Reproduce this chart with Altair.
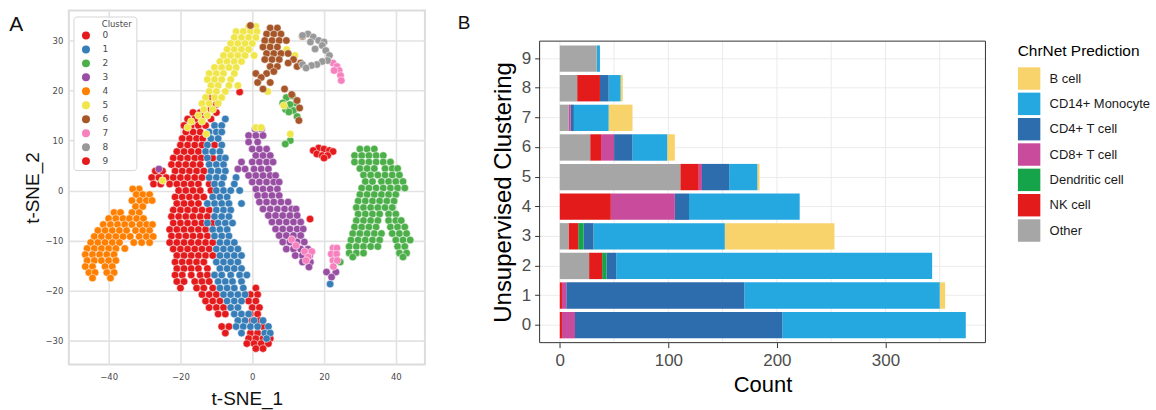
import altair as alt
import pandas as pd

# ---------------- Panel A : t-SNE points ----------------
# rows: (t-SNE_2, [t-SNE_1 values on that row])
CLUSTER_0 = [
    (15.6, [-16.5, -14.5, -10.0]),
    (14.3, [-18.0, -16.0, -14.0, -11.5]),
    (13.0, [-19.0, -17.0, -15.0, -13.0]),
    (11.7, [-18.5, -16.5, -14.5]),
    (10.4, [-19.5, -17.5, -15.5, -13.8]),
    (9.1, [-20.0, -18.0, -16.0, -14.0, -10.5]),
    (7.8, [-21.0, -19.0, -17.0, -15.0]),
    (6.5, [-22.0, -20.0, -18.0, -16.0, -14.2, -11.0]),
    (5.2, [-22.5, -20.5, -18.5, -16.5, -14.5]),
    (3.9, [-27.0, -25.0, -21.5, -19.5, -17.5, -15.5, -13.5]),
    (2.6, [-28.0, -26.0, -24.0, -22.0, -20.0, -18.0, -16.0, -14.0]),
    (1.3, [-27.5, -25.5, -23.0, -21.0, -19.0, -17.0, -15.0, -12.0]),
    (0.0, [-20.5, -18.5, -16.5, -14.5, -11.5]),
    (-1.3, [-21.5, -19.5, -17.5, -15.5, -13.5]),
    (-2.6, [-21.0, -19.0, -17.0, -15.0]),
    (-3.9, [-22.0, -20.0, -18.0, -16.0, -14.0, -12.0]),
    (-5.2, [-22.5, -20.5, -18.5, -16.5, -14.5, -12.5]),
    (-6.5, [-22.0, -20.0, -18.0, -16.0, -14.0, -11.0]),
    (-7.8, [-23.0, -21.0, -19.0, -17.0, -15.0, -13.0]),
    (-9.1, [-22.5, -20.5, -18.5, -16.5, -14.5, -12.5]),
    (-10.4, [-23.0, -21.0, -19.0, -17.0, -15.0, -13.0, -11.0]),
    (-11.7, [-22.0, -20.0, -18.0, -16.0, -14.0, -12.0]),
    (-13.0, [-21.0, -19.0, -17.0, -15.0, -13.0, -11.0]),
    (-14.3, [-21.5, -19.5, -17.5, -15.5, -13.5]),
    (-15.6, [-21.0, -19.0, -17.0, -15.0, -12.5]),
    (-16.9, [-21.5, -19.5, -17.0, -14.5, -12.5]),
    (-18.2, [-21.0, -19.0, -16.0, -14.0, -12.0]),
    (-19.5, [-20.0, -15.5, -13.5, -11.0, 1.0]),
    (-20.8, [-14.0, -12.0, -10.0, -0.5, 1.5]),
    (-22.1, [-13.0, -11.0, -9.0, -1.0, 1.0]),
    (-23.4, [-12.0, -10.0, -8.0, 0.0, 2.0]),
    (-24.7, [-9.5, -7.5, -0.5, 1.5]),
    (-26.0, [0.0, 2.0]),
    (-27.2, [-8.5, -6.5, 3.0]),
    (-28.5, [-7.5, -0.5, 1.5]),
    (-29.6, [-1.0, 1.0, 3.0, 5.0]),
    (-30.6, [-1.5, 0.5, 2.5, 4.5]),
    (-31.6, [1.0, 3.0]),
    (18.5, [-12.0]),
    (17.2, [-10.0]),
    (16.3, [-11.5]),
    (19.7, [-3.5]),
]

CLUSTER_1 = [
    (14.3, [-7.5]),
    (13.0, [-10.5, -8.5]),
    (11.7, [-12.0, -10.0, -8.5]),
    (10.4, [-11.5, -9.5]),
    (9.1, [-12.5, -8.5]),
    (7.8, [-13.0, -11.0, -9.0]),
    (6.5, [-12.5, -9.0, -7.5]),
    (5.2, [-12.0, -10.0, -8.0]),
    (3.9, [-11.5, -9.5, -7.5]),
    (2.6, [-12.0, -10.0, -8.0, -4.5]),
    (1.3, [-10.5, -8.5, -5.0]),
    (0.0, [-10.0, -8.0, -6.0, -3.5]),
    (-1.3, [-11.0, -9.0, -7.0]),
    (-2.6, [-12.5, -10.5, -8.5, -6.5, -3.0]),
    (-3.9, [-10.0, -8.0, -6.0]),
    (-5.2, [-10.5, -8.5, -6.5]),
    (-6.5, [-12.5, -9.5, -7.5, -5.5]),
    (-7.8, [-11.0, -9.0, -7.0]),
    (-9.1, [-10.5, -8.5, -6.5]),
    (-10.4, [-9.0, -7.0, -5.0]),
    (-11.7, [-10.0, -8.0, -6.0, -4.0]),
    (-13.0, [-9.0, -7.0, -5.0, -3.0]),
    (-14.3, [-10.0, -8.0, -6.0, -4.0]),
    (-15.6, [-9.0, -7.0, -5.0, -3.0]),
    (-16.9, [-10.5, -8.5, -6.0, -3.5, -1.5]),
    (-18.2, [-9.5, -7.5, -5.5, -3.0]),
    (-19.5, [-9.0, -7.0, -5.0, -2.5]),
    (-20.8, [-8.0, -6.0, -4.0, -2.0]),
    (-22.1, [-7.0, -5.0, -3.0]),
    (-23.4, [-6.0, -4.0]),
    (-24.7, [-5.0, -3.0, -1.0]),
    (-26.0, [-4.0, -2.0, 0.5, 3.0]),
    (-27.2, [-4.5, -2.5, -0.5, 1.5, 4.5]),
    (-28.5, [-3.0, 3.5, 5.0]),
    (-29.6, [4.0]),
    (-18.7, [21.7]),
]

CLUSTER_2 = [
    (8.3, [30.0, 32.0, 34.0]),
    (7.0, [28.5, 30.5, 32.5, 34.5, 36.5]),
    (5.7, [28.5, 30.5, 32.5, 34.5, 36.5, 38.5]),
    (4.4, [30.0, 32.0, 34.0, 37.0, 39.0, 40.5]),
    (3.1, [31.0, 33.0, 35.0, 37.0, 39.0, 41.0]),
    (1.8, [31.5, 33.5, 36.0, 38.0, 40.0, 42.0]),
    (0.5, [30.5, 32.5, 34.5, 36.5, 38.5, 40.5, 42.5]),
    (-0.8, [30.0, 32.0, 34.0, 36.0, 38.0, 40.0]),
    (-2.1, [29.5, 31.5, 33.5, 35.5, 37.5, 39.5]),
    (-3.4, [29.0, 31.0, 33.0, 35.0, 37.0, 39.0]),
    (-4.7, [29.5, 31.5, 33.5, 35.5, 38.0, 40.0]),
    (-6.0, [29.0, 31.0, 33.0, 35.0, 38.0, 40.0, 41.5]),
    (-7.3, [28.5, 30.5, 32.5, 34.5, 38.5, 40.5, 42.5]),
    (-8.6, [28.0, 30.0, 32.0, 34.0, 36.0, 39.0, 41.0, 43.0]),
    (-9.9, [27.5, 29.5, 31.5, 33.5, 35.5, 40.0, 42.0, 44.0]),
    (-11.2, [27.0, 29.0, 31.0, 33.0, 35.0, 40.5, 42.5]),
    (-12.5, [27.0, 29.0, 31.0, 41.0, 43.0]),
    (-13.3, [28.0, 42.0]),
    (18.9, [11.2]),
    (18.6, [9.5]),
    (17.5, [8.5, 12.2]),
    (17.2, [10.5]),
    (16.2, [9.3]),
    (16.0, [11.5]),
    (15.7, [10.2]),
    (14.8, [12.5]),
    (10.0, [10.6]),
    (9.3, [9.2]),
    (-14.3, [24.5]),
]

CLUSTER_3 = [
    (12.3, [0.8, 2.6]),
    (11.0, [-1.0, 1.0, 3.0]),
    (9.7, [-1.0, 1.5]),
    (8.3, [0.0, 2.0, 4.0]),
    (7.0, [1.0, 3.0, 5.0]),
    (5.7, [-3.0, 0.0, 2.0, 4.0, 5.8]),
    (4.3, [-4.0, -2.0, 0.5, 2.5, 4.5, -26.0]),
    (3.0, [-1.0, 1.0, 3.0, 5.0, 6.5]),
    (1.7, [0.0, 2.0, 4.0, 6.0, 7.5]),
    (0.3, [1.0, 3.0, 5.0, 7.0]),
    (-1.0, [1.5, 3.5, 5.5, 7.5]),
    (-2.3, [2.0, 4.0, 6.0, 8.0, 10.0]),
    (-3.7, [3.0, 5.0, 7.0, 9.0, 11.0, 12.2]),
    (-5.0, [4.5, 6.5, 8.5, 10.5, 12.5]),
    (-6.3, [5.5, 7.5, 9.5, 11.5, 13.5]),
    (-7.7, [6.5, 8.5, 10.5, 12.5, 14.2]),
    (-9.0, [7.5, 9.5, 11.5, 13.5]),
    (-10.3, [8.5, 10.5, 12.5, 14.5]),
    (-11.7, [9.5, 11.5, 13.5, 15.5]),
    (-13.0, [12.0, 14.0, 16.0]),
    (-14.3, [14.0, 16.2]),
    (-15.3, [15.8]),
    (-16.3, [20.7, 23.3]),
    (-17.3, [22.1]),
]

CLUSTER_4 = [
    (0.3, [-31.5, -33.3]),
    (-0.8, [-32.3, -30.5, -28.6]),
    (-2.0, [-33.5, -31.3, -29.5, -27.9]),
    (-3.2, [-32.5, -30.5]),
    (-4.4, [-38.5, -36.7, -33.5, -31.5]),
    (-5.6, [-40.0, -38.0, -36.0, -34.2, -32.2, -30.3]),
    (-6.8, [-41.5, -39.5, -37.5, -35.5, -33.5, -31.3, -29.4, -27.8]),
    (-8.0, [-43.0, -41.0, -39.0, -37.0, -35.0, -32.5, -30.5, -28.6]),
    (-9.2, [-44.0, -42.0, -40.0, -38.0, -36.0, -34.0, -31.5, -29.5, -27.6]),
    (-10.4, [-45.0, -43.0, -41.0, -39.0, -37.0, -33.0, -30.8, -28.6]),
    (-11.6, [-46.0, -44.0, -42.0, -40.0, -38.0, -35.5]),
    (-12.8, [-46.5, -44.5, -42.5, -40.5, -38.5]),
    (-14.0, [-46.0, -44.0, -42.0, -40.0, -38.0]),
    (-15.2, [-46.5, -44.5, -41.0, -39.0]),
    (-16.4, [-45.5, -43.8, -40.5, -38.5]),
    (-17.5, [-44.5, -39.5]),
]

CLUSTER_5 = [
    (32.8, [-1.0, 1.0]),
    (31.8, [-4.5, -2.5, -0.5, 1.3]),
    (30.6, [-5.0, -3.0, -1.0, 1.0]),
    (29.4, [-6.0, -4.0, -2.0, 0.0, 4.5]),
    (28.2, [-7.0, -5.0, -3.0, -1.0, 9.6]),
    (27.0, [-8.0, -6.0, -4.0, -2.0, 0.5, 11.9]),
    (25.8, [-9.0, -7.0, -5.0, -3.0]),
    (24.6, [-10.5, -8.5, -6.5, -4.5]),
    (23.4, [-12.0, -10.0, -8.0, -5.0]),
    (22.2, [-12.5, -10.5, -8.5, -6.0]),
    (21.0, [-11.5, -9.5, -6.5, -4.0]),
    (19.8, [-12.0, -10.0, -7.5, 4.3]),
    (18.6, [-13.0, -10.5, -8.5]),
    (17.4, [-14.0, -12.0, -9.5]),
    (17.0, [8.8]),
    (16.2, [-13.5, -11.0]),
    (15.0, [-15.0, -12.5]),
    (13.8, [-17.0, -14.0]),
    (12.6, [-18.0, 1.0, 2.5]),
    (11.3, [-12.8, 10.6]),
    (2.0, [-25.0]),
]

CLUSTER_6 = [
    (33.0, [-0.5]),
    (32.5, [5.0, 7.0]),
    (31.3, [4.0, 6.0, 8.0]),
    (30.8, [14.0]),
    (30.0, [3.5, 5.5, 7.5, 9.5]),
    (28.7, [3.0, 5.0, 7.0]),
    (27.4, [4.0, 6.0, 8.0, 10.0]),
    (26.2, [3.5, 5.5, 7.5, 11.5]),
    (25.5, [10.0, 13.5]),
    (24.8, [5.0, 7.0, 12.5]),
    (23.8, [6.0]),
    (23.4, [1.0, 4.0]),
    (22.6, [2.5]),
    (21.6, [1.5, 5.0]),
    (20.3, [9.0, 3.0]),
    (19.2, [11.0]),
    (18.0, [12.5]),
    (16.5, [13.2]),
    (14.0, [13.0]),
]

CLUSTER_7 = [
    (25.5, [22.5]),
    (24.8, [23.6]),
    (24.0, [24.2, 22.8]),
    (23.0, [24.6]),
    (22.0, [24.8]),
    (-9.8, [11.0]),
    (-11.0, [12.2]),
    (-11.5, [22.5, 23.6]),
    (-12.2, [14.6, 16.6]),
    (-12.7, [22.0, 23.5]),
    (-13.3, [15.6]),
    (-14.0, [22.5, 23.7, 15.0]),
    (-15.2, [22.6]),
]

CLUSTER_8 = [
    (31.3, [15.5]),
    (31.0, [14.0]),
    (30.7, [17.0]),
    (30.0, [18.5]),
    (29.7, [16.2, 20.0]),
    (29.0, [19.5]),
    (28.3, [17.5]),
    (28.0, [20.5]),
    (27.0, [21.5]),
    (26.0, [21.0]),
    (25.8, [19.5]),
    (25.2, [18.0, 14.0]),
    (25.0, [16.5]),
    (24.5, [15.0]),
]

CLUSTER_9 = [
    (8.5, [18.5]),
    (8.3, [20.0]),
    (8.0, [17.0, 21.5]),
    (7.8, [22.5]),
    (7.3, [18.0]),
    (7.0, [19.5, 21.0]),
    (6.5, [20.0]),
    (-5.7, [16.1]),
]

CLUSTER_ROWS = [CLUSTER_0, CLUSTER_1, CLUSTER_2, CLUSTER_3, CLUSTER_4,
                CLUSTER_5, CLUSTER_6, CLUSTER_7, CLUSTER_8, CLUSTER_9]
CLUSTER_NAMES = [str(i) for i in range(10)]
CLUSTER_COLORS = ["#e41a1c", "#377eb8", "#4daf4a", "#984ea3", "#ff7f00",
                  "#f0e64a", "#a65628", "#f781bf", "#999999", "#e41a1c"]
DRAW_SEQUENCE = [0, 1, 3, 2, 4, 5, 6, 7, 8, 9]

# ---------------- Panel B : stacked counts ----------------
CLUSTERS_B = ["0", "1", "2", "3", "4", "5", "6", "7", "8", "9"]
CELL_TYPES = ["B cell", "CD14+ Monocyte", "CD4+ T cell", "CD8+ T cell",
              "Dendritic cell", "NK cell", "Other"]
TYPE_COLORS = ["#f8d26b", "#25a8e0", "#2e6dad", "#c94b9c", "#16a44a", "#e41b1b", "#a6a6a6"]
STACK_POSITION = {"Other": 0, "NK cell": 1, "Dendritic cell": 2, "CD8+ T cell": 3,
                  "CD4+ T cell": 4, "CD14+ Monocyte": 5, "B cell": 6}
B_CELL = [0, 5, 0, 101, 0, 2, 7, 22, 2, 0]
CD14_MONO = [169, 180, 291, 121, 102, 26, 32, 32, 11, 3]
CD4_T = [191, 164, 9, 9, 13, 25, 17, 3, 8, 0]
CD8_T = [12, 4, 0, 0, 59, 3, 12, 2, 0, 0]
DENDRITIC = [0, 0, 4, 5, 0, 0, 0, 0, 0, 0]
NK = [2, 2, 12, 9, 47, 17, 10, 0, 21, 0]
OTHER = [0, 0, 27, 8, 0, 111, 28, 8, 16, 34]
COUNT_GRID = [0, 50, 100, 150, 200, 250, 300, 350]

# ---------------- build tables ----------------
recs = []
k = 0
for ci in DRAW_SEQUENCE:
    for yv, xs in CLUSTER_ROWS[ci]:
        for xv in xs:
            recs.append({"x": xv, "y": yv, "cluster": CLUSTER_NAMES[ci], "draw": k})
            k += 1
dfA = pd.DataFrame(recs)

series = {"B cell": B_CELL, "CD14+ Monocyte": CD14_MONO, "CD4+ T cell": CD4_T,
          "CD8+ T cell": CD8_T, "Dendritic cell": DENDRITIC, "NK cell": NK, "Other": OTHER}
recsB = []
for t, vals in series.items():
    for c, v in zip(CLUSTERS_B, vals):
        if v > 0:
            recsB.append({"cluster": c, "type": t, "count": v, "stack": STACK_POSITION[t]})
dfB = pd.DataFrame(recsB)

SANS = "Liberation Sans"
MPL = "DejaVu Sans"
NBSP = "\u00a0"
ZWSP = "\u200b"
# legend title pushed right by non-breaking spaces (a zero-width char keeps them from being trimmed)
CLUSTER_TITLE = ZWSP + NBSP * 9 + "Cluster"

# ---------------- Panel A chart ----------------
scatter = alt.Chart(dfA).mark_circle(size=58, opacity=1, stroke="white", strokeWidth=0.5).encode(
    x=alt.X("x:Q",
            scale=alt.Scale(domain=[-51.1, 48.1], nice=False, zero=False),
            axis=alt.Axis(values=[-40, -20, 0, 20, 40], title="t-SNE_1", ticks=False, tickSize=0,
                          domain=False, grid=True, gridColor="#e2e2e2", gridWidth=1.6,
                          labelFont=MPL, labelFontSize=8.5, labelColor="#4a4a4a", labelPadding=8,
                          titleFont=SANS, titleFontSize=19, titleFontWeight="normal",
                          titleColor="#111111", titlePadding=9)),
    y=alt.Y("y:Q",
            scale=alt.Scale(domain=[-34.8, 36], nice=False, zero=False),
            axis=alt.Axis(values=[-30, -20, -10, 0, 10, 20, 30], title="t-SNE_2", ticks=False, tickSize=0,
                          domain=False, grid=True, gridColor="#e2e2e2", gridWidth=1.6,
                          labelFont=MPL, labelFontSize=8.5, labelColor="#4a4a4a", labelPadding=6,
                          titleFont=SANS, titleFontSize=19, titleFontWeight="normal",
                          titleColor="#111111", titlePadding=2)),
    color=alt.Color("cluster:N",
                    scale=alt.Scale(domain=CLUSTER_NAMES, range=CLUSTER_COLORS),
                    legend=alt.Legend(title=CLUSTER_TITLE, orient="none", legendX=4.7, legendY=6,
                                      padding=4, fillColor="white", strokeColor="#d6d6d6",
                                      cornerRadius=3, titleFont=MPL, titleFontSize=8.5,
                                      titleFontWeight="normal", titleColor="#4a4a4a",
                                      titleAnchor="start", titlePadding=2,
                                      labelFont=MPL, labelFontSize=9, labelColor="#4a4a4a",
                                      symbolType="circle", symbolSize=64, symbolOffset=4,
                                      symbolStrokeWidth=0, labelOffset=12, rowPadding=4)),
    order=alt.Order("draw:Q"),
)

labelA = alt.Chart(pd.DataFrame({"t": ["A"]})).mark_text(
    align="left", baseline="top", fontSize=21, font=SANS, color="#111111"
).encode(text="t:N", x=alt.value(-59.7), y=alt.value(3.5))

panelA = alt.layer(scatter, labelA).properties(
    width=357, height=355,
    view=alt.ViewBackground(stroke="#dcdcdc", strokeWidth=2, fill="white"),
)

# ---------------- Panel B chart ----------------
# the view starts at the same height as panel A; the bars' area sits 30.7 px lower inside it
B_TOP = 30.7
B_HEIGHT = 333.0

gridB = alt.Chart(pd.DataFrame({"g": COUNT_GRID})).mark_rule(color="#ebebeb", strokeWidth=1).encode(
    x=alt.X("g:Q"), y=alt.value(B_TOP), y2=alt.value(B_HEIGHT)
)

bars = alt.Chart(dfB).mark_bar(strokeWidth=0).encode(
    y=alt.Y("cluster:N", sort=CLUSTERS_B[::-1],
            scale=alt.Scale(paddingInner=0.11, paddingOuter=0.145, range=[B_TOP, B_HEIGHT]),
            axis=alt.Axis(title="Unsupervised Clustering", labelAngle=0, ticks=True, tickSize=5,
                          tickColor="#333333", tickWidth=1, domain=False, grid=True,
                          gridColor="#ebebeb", gridWidth=1, bandPosition=0.5,
                          labelFont=SANS, labelFontSize=17, labelColor="#4d4d4d", labelPadding=4,
                          titleFont=SANS, titleFontSize=24, titleFontWeight="normal",
                          titleColor="#000000", titlePadding=6,
                          titleY=(B_TOP + B_HEIGHT) / 2)),
    x=alt.X("count:Q", stack="zero",
            scale=alt.Scale(domain=[-18.6, 392.1], nice=False, zero=False),
            axis=alt.Axis(values=[0, 100, 200, 300], title="Count",
                          ticks=True, tickSize=5, tickColor="#333333", tickWidth=1, domain=False,
                          grid=False,
                          labelFont=SANS, labelFontSize=17, labelColor="#4d4d4d", labelPadding=5,
                          labelFlush=False,
                          titleFont=SANS, titleFontSize=22, titleFontWeight="normal",
                          titleColor="#000000", titlePadding=6)),
    color=alt.Color("type:N",
                    scale=alt.Scale(domain=CELL_TYPES, range=TYPE_COLORS),
                    legend=alt.Legend(title="ChrNet Prediction", orient="none", legendX=479.3,
                                      legendY=B_TOP + 3.2, padding=0, titleFont=SANS, titleFontSize=15.5,
                                      titleFontWeight="normal", titleColor="#000000",
                                      titlePadding=7.3, symbolType="square", symbolSize=506,
                                      symbolStrokeWidth=0, rowPadding=2.4,
                                      labelFont=SANS, labelFontSize=13, labelColor="#1a1a1a",
                                      labelOffset=9)),
    order=alt.Order("stack:Q"),
)

frameB = alt.Chart(pd.DataFrame({"t": ["frame"]})).mark_rect(
    fillOpacity=0, stroke="#333333", strokeWidth=1
).encode(x=alt.value(0), x2=alt.value(447), y=alt.value(B_TOP), y2=alt.value(B_HEIGHT))

labelB = alt.Chart(pd.DataFrame({"t": ["B"]})).mark_text(
    align="left", baseline="top", fontSize=19, font=SANS, color="#111111"
).encode(text="t:N", x=alt.value(-82), y=alt.value(3.6))

panelB = alt.layer(gridB, bars, frameB, labelB).properties(
    width=447, height=B_HEIGHT,
)

chart = alt.hconcat(panelA, panelB, spacing=32).resolve_scale(
    color="independent", x="independent", y="independent"
).properties(
    padding={"left": 8, "top": 9, "right": 5, "bottom": 0},
    background="white",
).configure_view(strokeWidth=0)

chart.save("out.html", embed_options={"renderer": "svg", "actions": False})
